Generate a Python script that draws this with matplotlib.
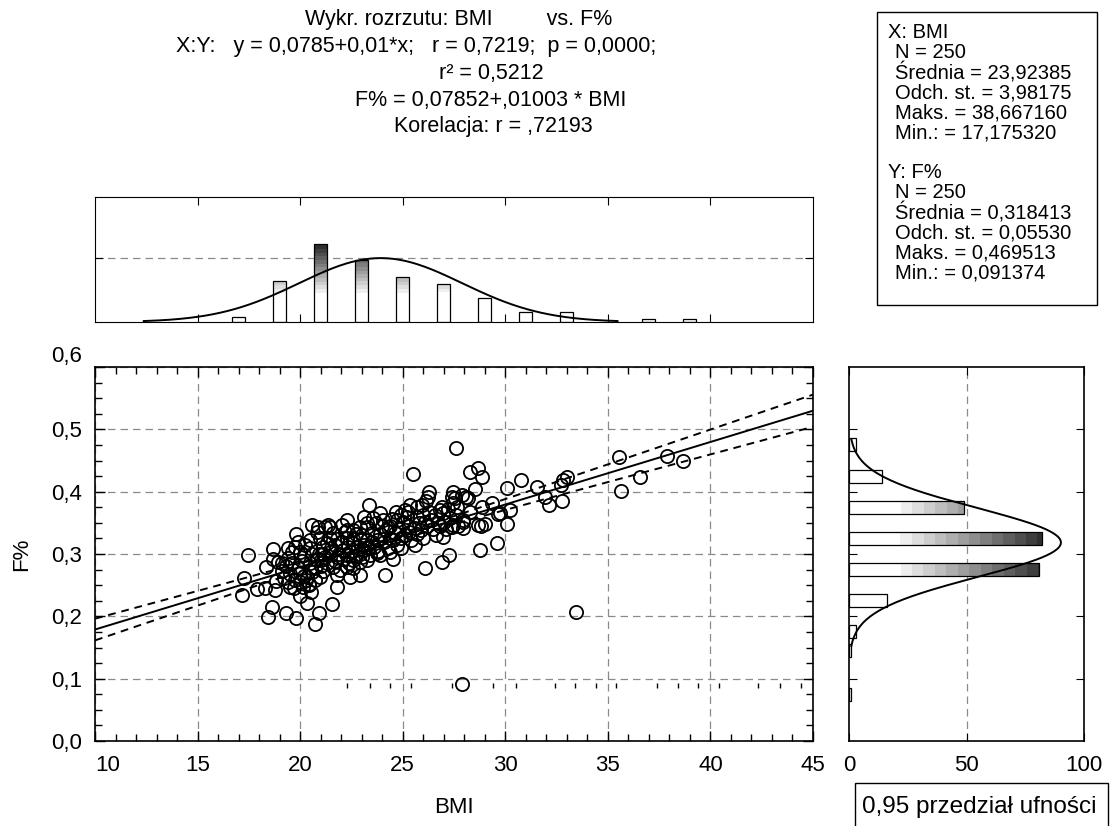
import numpy as np
import matplotlib
matplotlib.use("Agg")
import matplotlib.pyplot as plt
from matplotlib.colors import ListedColormap
from matplotlib.patches import Rectangle
from matplotlib.ticker import MultipleLocator, FixedLocator, FuncFormatter

plt.rcParams['font.family'] = ['Liberation Sans', 'DejaVu Sans']

# scatter values (BMI, F%)
bmi = [
    27.60, 25.50, 28.28, 28.67, 28.87, 30.77, 30.09, 31.55, 31.94, 32.13,
    32.77, 32.72, 32.82, 33.01, 35.55, 35.64, 36.57, 37.89, 38.67, 33.45,
    27.90, 28.53, 28.09, 27.45, 27.40, 27.55, 27.90, 28.18, 27.65, 27.45,
    26.28, 26.23, 26.14, 25.36, 25.70, 25.94, 23.36, 28.87, 29.35, 29.74,
    30.23, 28.28, 27.94, 27.45, 26.97, 28.67, 29.01, 30.09, 29.60, 28.77,
    26.97, 26.82, 26.58, 27.26, 26.92, 26.09, 24.53, 24.14, 21.55, 20.92,
    20.73, 19.80, 19.31, 18.63, 18.43, 17.18, 17.26, 17.46, 18.68, 18.68,
    18.92, 18.34, 17.90, 18.29, 18.78, 18.82, 19.80, 20.34, 19.99, 20.53,
    20.43, 21.80, 19.51, 27.94, 27.94, 27.40, 28.82, 29.65,
    24.67, 24.72, 24.04, 24.28, 24.38, 24.53, 23.55, 23.26, 23.50, 23.75,
    22.29, 22.04, 22.29, 20.58, 20.87, 21.21, 21.46, 25.60, 25.70, 25.60,
    23.75, 25.26,
    21.36, 20.82, 22.58, 22.92, 23.26, 19.41, 19.60, 19.75, 19.99, 20.24,
    20.48, 20.48, 20.73, 20.97, 20.34, 19.99, 19.75, 20.43, 20.14, 21.12,
    21.46, 21.80, 22.09, 22.33, 22.58, 22.82, 23.07, 21.31, 21.60, 21.94,
    22.29, 22.58, 22.92, 23.26, 21.80, 22.43, 22.92, 22.58, 20.97, 21.46,
    21.80, 22.29, 22.58, 22.92, 23.26,
    19.10, 19.30, 19.50, 19.60, 19.90, 20.10, 20.20, 20.30, 20.60, 20.80,
    20.60, 20.20, 19.20, 19.40, 19.70, 20.00, 20.70, 21.00, 21.10, 21.20,
    20.50, 19.90, 19.40,
    21.30, 21.50, 21.70, 21.90, 22.10, 22.30, 22.00, 22.50, 22.70, 22.90,
    23.10, 23.30, 23.40, 22.20, 22.70, 23.00, 21.60, 21.10, 23.60, 23.80,
    23.90, 24.10, 24.20, 24.40, 24.60, 24.80, 24.90, 25.00, 25.10, 25.30,
    25.40, 25.20, 24.90, 24.50, 24.00, 23.70, 23.90, 25.80, 25.90, 26.00,
    26.20, 26.40, 26.50, 26.70, 26.30, 26.00, 25.70, 24.30, 23.50, 24.70,
    27.10, 27.30, 27.60, 27.70, 26.80, 27.00, 26.90, 27.20,
    21.00, 21.70, 22.40, 23.00, 23.90, 24.40, 24.90, 25.30, 26.10, 26.60,
    25.10, 23.10, 19.10, 20.90,
]
fat = [
    0.4695, 0.428, 0.432, 0.438, 0.424, 0.418, 0.406, 0.407, 0.392, 0.379,
    0.385, 0.410, 0.419, 0.424, 0.456, 0.401, 0.424, 0.457, 0.449, 0.207,
    0.0914, 0.404, 0.392, 0.400, 0.392, 0.390, 0.395, 0.390, 0.376, 0.382,
    0.400, 0.392, 0.385, 0.379, 0.376, 0.379, 0.379, 0.376, 0.382, 0.366,
    0.371, 0.368, 0.355, 0.347, 0.327, 0.347, 0.348, 0.348, 0.318, 0.306,
    0.366, 0.371, 0.363, 0.299, 0.287, 0.278, 0.292, 0.266, 0.220, 0.205,
    0.187, 0.197, 0.205, 0.215, 0.199, 0.234, 0.262, 0.299, 0.308, 0.292,
    0.287, 0.279, 0.244, 0.246, 0.242, 0.257, 0.332, 0.222, 0.233, 0.239,
    0.250, 0.247, 0.247, 0.351, 0.342, 0.343, 0.345, 0.364,
    0.368, 0.355, 0.355, 0.343, 0.326, 0.322, 0.358, 0.343, 0.334, 0.322,
    0.355, 0.347, 0.339, 0.347, 0.343, 0.343, 0.343, 0.342, 0.332, 0.315,
    0.302, 0.368,
    0.347, 0.335, 0.339, 0.343, 0.350, 0.294, 0.304, 0.311, 0.304, 0.315,
    0.323, 0.286, 0.278, 0.263, 0.263, 0.270, 0.258, 0.252, 0.247, 0.311,
    0.303, 0.295, 0.306, 0.311, 0.318, 0.311, 0.306, 0.286, 0.279, 0.274,
    0.279, 0.290, 0.287, 0.290, 0.266, 0.263, 0.266, 0.277, 0.326, 0.326,
    0.324, 0.326, 0.324, 0.324, 0.322,
    0.272, 0.281, 0.268, 0.285, 0.278, 0.289, 0.265, 0.258, 0.271, 0.290,
    0.300, 0.298, 0.262, 0.255, 0.245, 0.255, 0.258, 0.281, 0.272, 0.295,
    0.310, 0.320, 0.310,
    0.318, 0.310, 0.315, 0.300, 0.292, 0.298, 0.320, 0.303, 0.296, 0.300,
    0.315, 0.310, 0.298, 0.335, 0.332, 0.330, 0.333, 0.300, 0.312, 0.305,
    0.332, 0.320, 0.338, 0.345, 0.333, 0.340, 0.325, 0.352, 0.330, 0.345,
    0.322, 0.360, 0.362, 0.356, 0.345, 0.350, 0.365, 0.350, 0.338, 0.362,
    0.345, 0.355, 0.340, 0.350, 0.368, 0.325, 0.360, 0.310, 0.320, 0.315,
    0.340, 0.357, 0.363, 0.345, 0.345, 0.352, 0.375, 0.372,
    0.290, 0.288, 0.285, 0.295, 0.298, 0.303, 0.310, 0.335, 0.352, 0.330,
    0.370, 0.360, 0.285, 0.300,
]

# histogram of BMI (top) and F% (right)
bmi_bins = [17, 19, 21, 23, 25, 27, 29, 31, 33, 35, 37, 39]
bmi_counts = [4, 32, 61, 49, 35, 30, 19, 8, 8, 0, 2, 2]
fat_bins = [0.075, 0.145, 0.175, 0.225, 0.275, 0.325, 0.375, 0.425, 0.475]
fat_counts = [1, 1, 3, 16, 81, 82, 49, 14, 3]

# summary statistics shown in the chart
n = 250
intercept, slope, r = 0.07852, 0.01003, 0.72193
x_mean, x_sd = 23.92385, 3.98175
y_mean, y_sd = 0.318413, 0.05530

stray_ticks = [22.3, 23.4, 24.4, 25.4, 27.4, 29.4, 30.5, 32.4, 33.4, 34.4,
               35.4, 37.4, 38.4, 39.4, 40.4, 42.3, 43.4, 44.4]

title_lines = [
    ("Wykr. rozrzutu: BMI         vs. F%", 459),
    ("X:Y:   y = 0,0785+0,01*x;   r = 0,7219;  p = 0,0000;", 416),
    ("r² = 0,5212", 491),
    ("F% = 0,07852+,01003 * BMI", 491),
    ("Korelacja: r = ,72193", 493),
]
stats_lines = [
    ("X: BMI", 0), ("N = 250", 1), ("Średnia = 23,92385", 1),
    ("Odch. st. = 3,98175", 1), ("Maks. = 38,667160", 1), ("Min.: = 17,175320", 1),
    (None, 0),
    ("Y: F%", 0), ("N = 250", 1), ("Średnia = 0,318413", 1),
    ("Odch. st. = 0,05530", 1), ("Maks. = 0,469513", 1), ("Min.: = 0,091374", 1),
]

W, H = 1110, 826
fig = plt.figure(figsize=(W / 100, H / 100), dpi=100)


def fx(px):
    return px / W


def fy(py):
    return 1 - py / H


levels = np.linspace(1.0, 0.12, 15)
steps = ListedColormap([(g, g, g) for g in levels])
grid_kw = dict(color='#8a8a8a', lw=0.9, ls=(0, (6, 4)))
comma = FuncFormatter(lambda v, p: f"{v:.1f}".replace('.', ','))
FS = 16


def gradient_bar(ax, x0, y0, w, h, vmin, vmax, horizontal):
    rect = Rectangle((x0, y0), w, h, facecolor='none', edgecolor='black',
                     lw=0.9, zorder=3)
    ax.add_patch(rect)
    if horizontal:
        img = np.linspace(x0, x0 + w, 300)[None, :]
    else:
        img = np.linspace(y0, y0 + h, 300)[:, None]
    im = ax.imshow(img, extent=(x0, x0 + w, y0, y0 + h), origin='lower',
                   cmap=steps, vmin=vmin, vmax=vmax, aspect='auto',
                   interpolation='nearest', zorder=2)
    im.set_clip_path(rect)


# main scatter
ax = fig.add_axes([fx(95), fy(741), fx(813 - 95), (741 - 367) / H])
ax.plot(bmi, fat, 'o', mfc='none', mec='black', ms=9.5, mew=1.3, zorder=4)
xs = np.linspace(10, 45, 200)
yhat = intercept + slope * xs
s_res = y_sd * np.sqrt(1 - r ** 2) * np.sqrt((n - 1) / (n - 2))
se = s_res * np.sqrt(1 / n + (xs - x_mean) ** 2 / ((n - 1) * x_sd ** 2))
ax.plot(xs, yhat, color='black', lw=1.4, zorder=5)
ax.plot(xs, yhat + 1.97 * se, color='black', lw=1.4, ls=(0, (4, 3)), zorder=5)
ax.plot(xs, yhat - 1.97 * se, color='black', lw=1.4, ls=(0, (4, 3)), zorder=5)
ax.vlines(stray_ticks, 0.085, 0.093, color='black', lw=1)
ax.set_xlim(10, 45)
ax.set_ylim(0, 0.6)
ax.xaxis.set_major_locator(MultipleLocator(5))
ax.xaxis.set_minor_locator(MultipleLocator(1))
ax.yaxis.set_major_locator(MultipleLocator(0.1))
ax.yaxis.set_minor_locator(MultipleLocator(0.025))
ax.yaxis.set_major_formatter(comma)
ax.grid(True, which='major', **grid_kw)
ax.tick_params(which='both', direction='in', top=True, right=True,
               labelsize=FS, width=1)
ax.tick_params(which='major', length=7)
ax.tick_params(which='minor', length=5)
ax.tick_params(axis='x', pad=10)
ax.tick_params(axis='y', pad=9)
ax.set_xlabel("BMI", fontsize=FS, labelpad=15)
ax.set_ylabel("F%", fontsize=FS, labelpad=14)
for s in ax.spines.values():
    s.set_linewidth(1.2)
fig.canvas.draw()
for lab in ax.get_yticklabels():
    if lab.get_text() == '0,6':
        lab.set_va('bottom')
for lab in ax.get_xticklabels():
    if lab.get_text() == '10':
        lab.set_ha('left')

# top histogram of BMI
axt = fig.add_axes([fx(95), fy(322), fx(813 - 95), (322 - 197) / H])
bw = 0.64
for c, cnt in zip(bmi_bins, bmi_counts):
    if cnt > 0:
        gradient_bar(axt, c - bw / 2, 0, bw, cnt, 20, 63, False)
gx = np.linspace(x_mean - 2.9 * x_sd, x_mean + 2.9 * x_sd, 200)
gy = n * 2 / (x_sd * np.sqrt(2 * np.pi)) * np.exp(-0.5 * ((gx - x_mean) / x_sd) ** 2)
axt.plot(gx, gy, color='black', lw=1.4, zorder=4)
axt.set_xlim(10, 45)
axt.set_ylim(0, 98)
axt.xaxis.set_major_locator(FixedLocator([15, 20, 25, 30, 35, 40]))
axt.yaxis.set_major_locator(FixedLocator([50]))
axt.axhline(50, **grid_kw, zorder=1)
axt.tick_params(which='both', direction='in', top=True, right=True,
                labelbottom=False, labelleft=False, length=6)

# right histogram of F%
axr = fig.add_axes([fx(849), fy(741), fx(1084 - 849), (741 - 367) / H])
bh = 0.021
for c, cnt in zip(fat_bins, fat_counts):
    gradient_bar(axr, 0, c - bh / 2, cnt, bh, 17, 90, True)
cy = np.linspace(y_mean - 3 * y_sd, y_mean + 3 * y_sd, 200)
cx = n * 0.05 / (y_sd * np.sqrt(2 * np.pi)) * np.exp(-0.5 * ((cy - y_mean) / y_sd) ** 2)
axr.plot(cx, cy, color='black', lw=1.4, zorder=4)
axr.axvline(50, **grid_kw, zorder=1)
axr.set_xlim(0, 100)
axr.set_ylim(0, 0.6)
axr.xaxis.set_major_locator(FixedLocator([0, 50, 100]))
axr.yaxis.set_major_locator(FixedLocator([0.1, 0.2, 0.3, 0.4, 0.5]))
axr.tick_params(which='both', direction='in', top=True, right=True,
                labelleft=False, labelsize=FS, length=6, pad=10)
for s in axr.spines.values():
    s.set_linewidth(1.2)

# titles
for i, (line, cx_px) in enumerate(title_lines):
    fig.text(fx(cx_px), fy(20 + 26.7 * i), line, ha='center', va='center',
             fontsize=15.5)

# statistics box
fig.add_artist(Rectangle((fx(877), fy(305)), fx(1097 - 877), (305 - 12) / H,
                         transform=fig.transFigure, facecolor='white',
                         edgecolor='black', lw=1))
for i, (txt, indent) in enumerate(stats_lines):
    if txt:
        fig.text(fx(888 + 7 * indent), fy(33 + 20 * i), txt,
                 ha='left', va='center', fontsize=14.5)

# confidence label
fig.add_artist(Rectangle((fx(855), fy(830)), fx(1108 - 855), (830 - 783) / H,
                         transform=fig.transFigure, facecolor='white',
                         edgecolor='black', lw=1))
fig.text(fx(862), fy(807), "0,95 przedział ufności", ha='left', va='center',
         fontsize=17.5)

fig.savefig("out.png", dpi=100)
